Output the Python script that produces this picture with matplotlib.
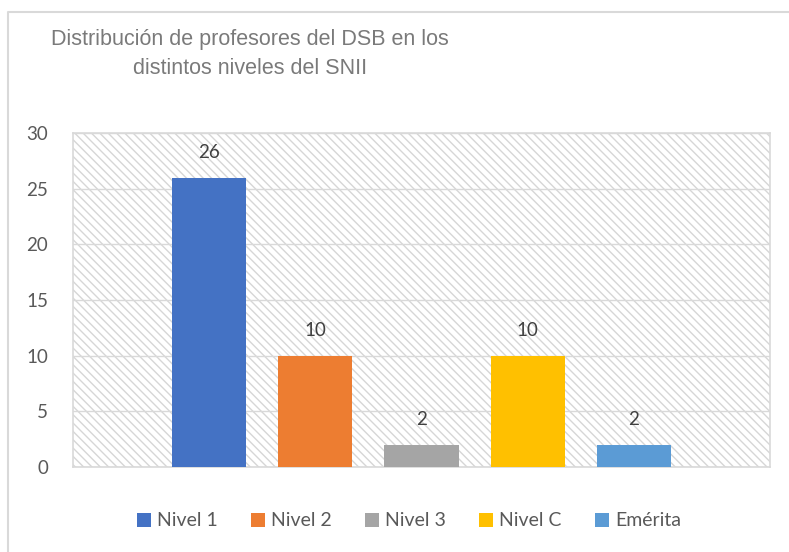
import matplotlib.pyplot as plt
from matplotlib.patches import Rectangle, Patch
from matplotlib.lines import Line2D

# data
categories = ['Nivel 1', 'Nivel 2', 'Nivel 3', 'Nivel C', 'Emérita']
values = [26, 10, 2, 10, 2]
colors = ['#4472C4', '#ED7D31', '#A5A5A5', '#FFC000', '#5B9BD5']
y_ticks = [0, 5, 10, 15, 20, 25, 30]

title = 'Distribución de profesores del DSB en los\ndistintos niveles del SNII'

plt.rcParams['font.family'] = ['Lato', 'DejaVu Sans']

fig = plt.figure(figsize=(7.89, 5.52), dpi=100)
ax = fig.add_axes([73 / 789, 85 / 552, 697 / 789, 334 / 552])

# hatched plot-area background
bg = Rectangle((0, 0), 1, 1, transform=ax.transAxes, facecolor='white',
               edgecolor='#d6d6d6', hatch='\\\\\\\\', lw=0, zorder=0)
ax.add_patch(bg)
ax.patch.set_visible(False)

x = list(range(len(categories)))
ax.bar(x, values, width=0.7, color=colors, zorder=3)
for xi, v in zip(x, values):
    ax.text(xi, v + 1.75, str(v), ha='center', va='baseline',
            fontsize=13.5, color='#404040', zorder=4)

ax.set_xlim(-1.28, 5.28)
ax.set_ylim(0, 30)
ax.set_yticks(y_ticks)
ax.set_xticks([])
ax.tick_params(axis='y', length=0, pad=18, labelsize=13.5, labelcolor='#595959')
ax.grid(axis='y', color='#d9d9d9', lw=1, zorder=1)
ax.set_axisbelow(True)
for s in ax.spines.values():
    s.set_color('#d9d9d9')
    s.set_linewidth(1.2)

# chart title, placed like the Excel original
fig.text(250 / 789, 1 - 54 / 552, title, ha='center', va='center',
         fontsize=15.5, color='#7a7a7a', linespacing=1.5,
         family=['Liberation Sans', 'DejaVu Sans'])

handles = [Patch(facecolor=c, edgecolor='none') for c in colors]
fig.legend(handles, categories, loc='center', ncol=5,
           bbox_to_anchor=(409 / 789, 1 - 521 / 552), frameon=False,
           fontsize=14, labelcolor='#595959', handlelength=0.72,
           handleheight=0.72, handletextpad=0.32, columnspacing=1.7)

# outer chart border (runs off the right and bottom of the image)
fig.add_artist(Line2D([8 / 789, 8 / 789, 1.0], [0.0, 1 - 12 / 552, 1 - 12 / 552],
                      transform=fig.transFigure, color='#d9d9d9', lw=1.5))

fig.savefig('out.png', dpi=100)
